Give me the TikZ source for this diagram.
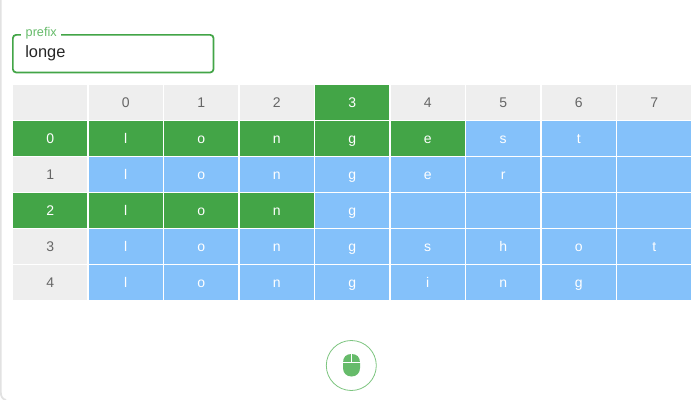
\documentclass[tikz,border=0pt]{standalone}
\usepackage{fontspec}
\setmainfont{Liberation Sans}
\definecolor{gn}{HTML}{43A547}
\definecolor{bl}{HTML}{84C1FA}
\definecolor{gy}{HTML}{EEEEEE}
\definecolor{tx}{HTML}{666666}
\definecolor{soft}{HTML}{E2E2E2}
\definecolor{lightgn}{HTML}{66BB6A}
\tikzset{
 x=0.75pt,y=-0.75pt,
 cellbase/.style={minimum width=55.6pt,minimum height=26.1pt,inner sep=0pt,text height=7.5pt,text depth=0pt,font=\fontsize{10.5pt}{11pt}\selectfont},
 hd/.style={cellbase,fill=gy,text=tx},
 hit/.style={cellbase,fill=gn,text=white},
 miss/.style={cellbase,fill=bl,text=white},
}
\begin{document}
\begin{tikzpicture}
\useasboundingbox (0,0) rectangle (700,400);
\fill[white] (0,0) rectangle (700,400);
\draw[soft,line width=1.3pt] (0.8,0) -- (0.8,392) .. controls (0.8,396) and (2,399) .. (6,400);
% prefix field
\node[draw=gn,line width=1.3pt,rounded corners=2.5pt,minimum width=150.5pt,minimum height=28.2pt,inner sep=0pt,anchor=north west,fill=white] (field) at (12,34) {};
\node[fill=white,text=lightgn,inner sep=0pt,minimum width=30pt,minimum height=8pt,font=\fontsize{9.5pt}{10pt}\selectfont] (flabel) at (41.2,33) {prefix};
\node[anchor=west,inner sep=0pt,text=black!85,font=\fontsize{12.3pt}{14pt}\selectfont] (fval) at (25,53.5) {longe};
% table
\def\colx{{50.2,125.7,201.2,276.7,352.2,427.7,503.2,578.7,654.2}}
\def\rowy{{102.5,138.5,174.5,210.5,246.5,282.5}}
\foreach \c [count=\i from 1] in {,0,1,2,3,4,5,6,7}{
  \pgfmathsetmacro{\xx}{\colx[\i-1]}
  \ifnum\i=5
   \node[hit] (h\i) at (\xx,102.5) {\c};
  \else
   \node[hd] (h\i) at (\xx,102.5) {\c};
  \fi
}
\foreach \r/\nhit in {0/5,1/0,2/3,3/0,4/0}{
  \pgfmathsetmacro{\yy}{\rowy[\r+1]}
  \ifnum\nhit>0
    \node[hit] (r\r) at (50.2,\yy) {\r};
  \else
    \node[hd] (r\r) at (50.2,\yy) {\r};
  \fi
}
\newcommand{\putrow}[3]{% row, nhit, letters
  \pgfmathsetmacro{\yy}{\rowy[#1+1]}
  \foreach \l [count=\i from 1] in {#3}{
    \pgfmathsetmacro{\xx}{\colx[\i]}
    \ifnum\i>#2\relax
      \node[miss] (c#1-\i) at (\xx,\yy) {\l};
    \else
      \node[hit] (c#1-\i) at (\xx,\yy) {\l};
    \fi
  }
}
\putrow{0}{5}{l,o,n,g,e,s,t,{}}
\putrow{1}{0}{l,o,n,g,e,r,{},{}}
\putrow{2}{3}{l,o,n,g,{},{},{},{}}
\putrow{3}{0}{l,o,n,g,s,h,o,t}
\putrow{4}{0}{l,o,n,g,i,n,g,{}}
% button
\node[circle,draw=lightgn!85,line width=0.6pt,minimum size=37.5pt,inner sep=0pt] (btn) at (351.3,365.5) {};
\fill[lightgn] (343,363) .. controls (343,357) and (346,354) .. (351.5,354) .. controls (357,354) and (360,357) .. (360,363) -- (360,368) .. controls (360,373) and (356.5,376.5) .. (351.5,376.5) .. controls (346.5,376.5) and (343,373) .. (343,368) -- cycle;
\draw[white,line width=0.8pt] (342,362.5) -- (361,362.5);
\draw[white,line width=0.8pt] (351.5,353) -- (351.5,362.5);
\end{tikzpicture}
\end{document}
